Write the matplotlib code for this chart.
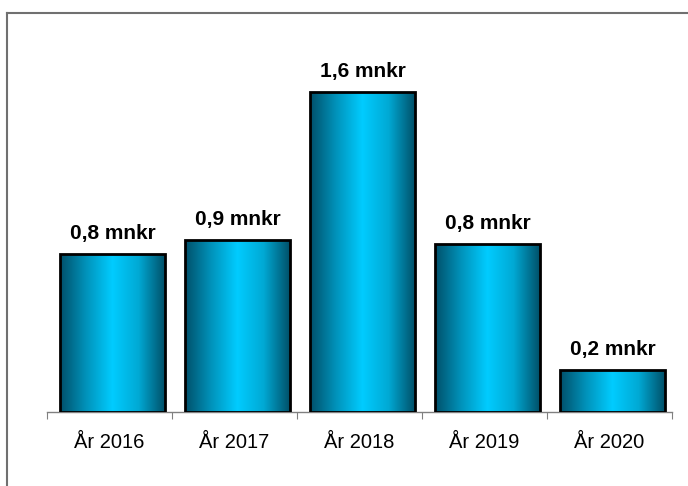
import numpy as np
import matplotlib.pyplot as plt
from matplotlib.colors import LinearSegmentedColormap
from matplotlib.lines import Line2D

categories = ["År 2016", "År 2017", "År 2018", "År 2019", "År 2020"]
values = [0.79, 0.86, 1.6, 0.84, 0.21]
labels = ["0,8 mnkr", "0,9 mnkr", "1,6 mnkr", "0,8 mnkr", "0,2 mnkr"]

plt.rcParams['font.family'] = ['Liberation Sans', 'DejaVu Sans']

fig = plt.figure(figsize=(6.88, 4.86), dpi=100)
ax = fig.add_axes([0.0683, 0.152, 0.9084, 0.807])

# gradient for bars: dark teal at edges, bright cyan in the middle
cmap = LinearSegmentedColormap.from_list(
    "cyl", ["#00506a", "#0093bb", "#00ccff", "#00a9d4", "#005069"])
grad = np.linspace(0, 1, 256).reshape(1, -1)

x = np.arange(len(categories)) + 0.024
width = 0.84
bars = ax.bar(x, values, width=width, color="none", edgecolor="black",
              linewidth=2, zorder=3)

for bar, lab in zip(bars, labels):
    x0, h = bar.get_x(), bar.get_height()
    im = ax.imshow(grad, cmap=cmap, aspect="auto", extent=[x0, x0 + width, 0, h],
                   zorder=2)
    im.set_clip_path(bar)
    ax.annotate(lab, (x0 + width / 2, h), xytext=(0, 8), textcoords="offset points",
                ha="center", va="bottom", fontsize=15, fontweight="bold")

ax.set_xlim(-0.5, len(categories) - 0.5)
ax.set_ylim(0, 1.96)

for s in ["top", "right", "left"]:
    ax.spines[s].set_visible(False)
ax.spines["bottom"].set_color("#808080")
ax.spines["bottom"].set_linewidth(1)

ax.set_yticks([])
ax.set_xticks(np.arange(-0.5, len(categories)), minor=False)
ax.set_xticklabels([])
ax.tick_params(axis="x", which="major", length=5, color="#808080", direction="out")
ax.set_xticks(np.arange(len(categories)), minor=True)
ax.set_xticklabels(categories, minor=True, fontsize=14.5)
ax.tick_params(axis="x", which="minor", length=0, pad=15)

# outer frame (top and left edges visible)
fig.add_artist(Line2D([7 / 688, 1], [1 - 13 / 486, 1 - 13 / 486], color="#707070",
                      lw=1.5, transform=fig.transFigure))
fig.add_artist(Line2D([7 / 688, 7 / 688], [0, 1 - 13 / 486], color="#707070",
                      lw=1.5, transform=fig.transFigure))

fig.savefig("out.png", dpi=100)
